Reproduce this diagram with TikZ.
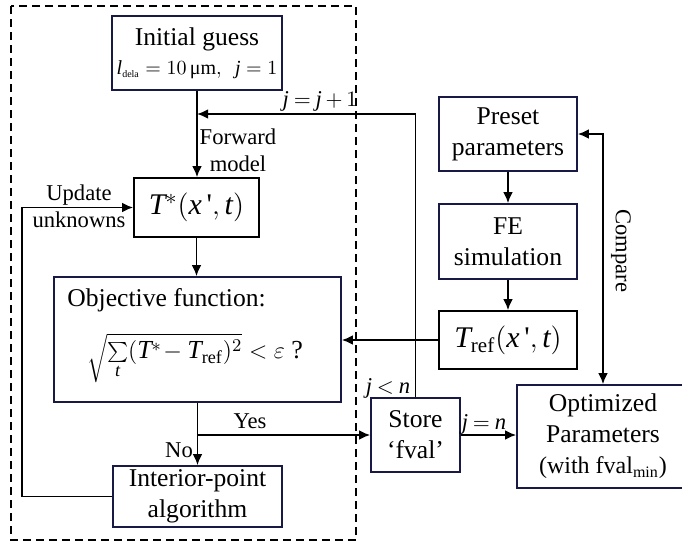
\documentclass[tikz,border=0pt]{standalone}
\usepackage{fontspec}
\setmainfont{Liberation Serif}
\usetikzlibrary{arrows.meta}

\definecolor{edge}{RGB}{25,25,70}
\newcommand{\apos}{\mbox{\textquotesingle}}
\newcommand{\vi}[1]{\mathit{#1}}
\newcommand{\tightmath}{\thickmuskip=4mu\relax\medmuskip=3mu\relax}

\begin{document}
\begin{tikzpicture}[x=0.5pt,y=-0.5pt,
  box/.style={draw=edge,line width=0.85pt,inner sep=0pt,align=center,
    font=\fontsize{12.8}{15.5}\selectfont},
  plainbox/.style={box,draw=black},
  lbl/.style={inner sep=0pt,align=center,
    font=\fontsize{11.3}{13.5}\selectfont\tightmath},
  wire/.style={line width=0.85pt},
  flow/.style={wire,-{Latex[length=5.5pt,width=4.8pt]}},
  both/.style={wire,{Latex[length=5.5pt,width=4.8pt]}-{Latex[length=5.5pt,width=4.8pt]}},
]
\useasboundingbox (0,0) rectangle (682,542);

% inverse-analysis loop frame
\draw[wire,dash pattern=on 4pt off 2.5pt] (11,6) rectangle (356,540);

% boxes
\node[box,minimum width=85pt,minimum height=37pt] (init) at (197,53)
  {Initial guess\\[-1pt]{\fontsize{10}{12}\selectfont
   $\vi{l}_{\scriptscriptstyle\mathrm{dela}}=10\,\mbox{μm},\ \ \vi{j}=1$}};
\node[plainbox,minimum width=62.5pt,minimum height=29.5pt,
  font=\fontsize{15}{18}\selectfont] (tstar) at (196.5,207.5)
  {$\vi{T}^{*}(\vi{x}\,\apos,\vi{t})$};
\node[box,minimum width=143.5pt,minimum height=62.5pt] (obj) at (197.5,339.5) {};
\node[inner sep=0pt,anchor=west,font=\fontsize{12.8}{15.5}\selectfont] (objtitle)
  at (67,300) {Objective function:};
\node[inner sep=0pt,font=\fontsize{13}{16}\selectfont] (objeq) at (195,358)
  {$\sqrt{\sum\limits_{\vi{t}}(\vi{T}^{*}\!-\vi{T}_{\mathrm{ref}})^{2}}<\varepsilon$ ?};
\node[box,minimum width=84.5pt,minimum height=30.5pt] (interior) at (197.5,496.5)
  {Interior-point\\algorithm};
\node[box,minimum width=44.5pt,minimum height=37pt] (store) at (415.5,435)
  {Store\\‘fval’};
\node[box,minimum width=86pt,minimum height=51.5pt] (optim) at (603,436.5)
  {Optimized\\Parameters\\{\fontsize{12}{15.5}\selectfont(with fval$_{\mathrm{min}}$)}};
\node[box,minimum width=69pt,minimum height=37pt] (preset) at (508,134)
  {Preset\\parameters};
\node[box,minimum width=69pt,minimum height=37.5pt] (fe) at (508,241.5)
  {FE\\simulation};
\node[plainbox,minimum width=69pt,minimum height=29pt,
  font=\fontsize{15}{18}\selectfont] (tref) at (508,340)
  {$\vi{T}_{\mathrm{ref}}(\vi{x}\,\apos,\vi{t})$};

% connectors
\coordinate (jj) at (197,114);
\coordinate (fork) at (197.5,435);
\draw[flow] (init.south) -- (init.south |- tstar.north);
\draw[flow] (store.north) -- (store.north |- jj) -- (jj);
\draw[flow] (tstar.south) -- (tstar.south |- obj.north);
\draw[flow] (tref.west) -- (tref.west -| obj.east);
\draw[flow] (obj.south) -- (interior.north);
\draw[flow] (fork) -- (fork -| store.west);
\draw[flow] (interior.west) -- ++(-90,0) |- (tstar.west);
\draw[flow] (preset) -- (fe);
\draw[flow] (fe) -- (tref);
\draw[flow] (store.east) -- (store.east -| optim.west);
\draw[both] (preset.east) -| (optim.north);

% labels
\node[lbl] (lfwd) at (238,150) {Forward\\model};
\node[lbl] (lupd) at (79,206) {Update\\unknowns};
\node[lbl] (ljj) at (320,101) {$\vi{j}=\vi{j}+1$};
\node[lbl] (ljn) at (388,388) {$\vi{j}<\vi{n}$};
\node[lbl] (lyes) at (250,421) {Yes};
\node[lbl] (lno) at (179,450) {No};
\node[lbl] (ljeq) at (484,424) {$\vi{j}=\vi{n}$};
\node[lbl,rotate=-90] (lcmp) at (621,251) {Compare};
\end{tikzpicture}
\end{document}
